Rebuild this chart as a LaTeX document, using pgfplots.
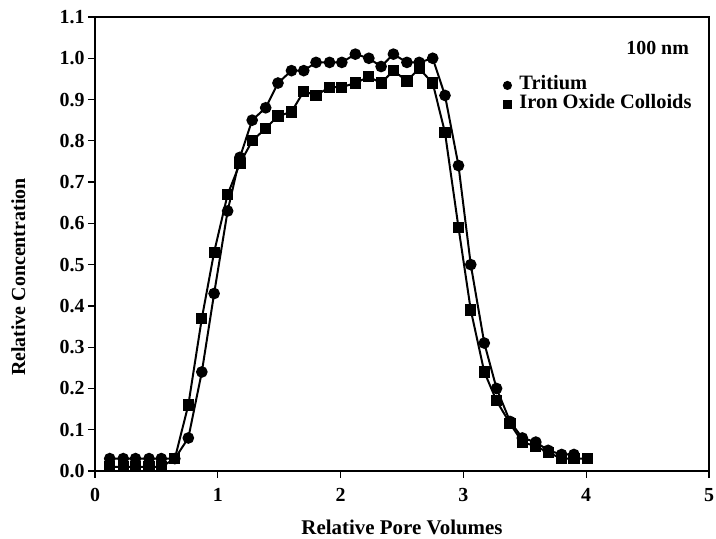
\documentclass[border=0pt]{standalone}
\usepackage{pgfplots}
\pgfplotsset{compat=1.18}
\usepackage{fontspec}
\setmainfont{Liberation Serif}

\pgfplotstableread{
x y
0.12 0.03
0.23 0.03
0.33 0.03
0.44 0.03
0.54 0.03
0.65 0.03
0.76 0.08
0.87 0.24
0.97 0.43
1.08 0.63
1.18 0.76
1.28 0.85
1.39 0.88
1.49 0.94
1.60 0.97
1.70 0.97
1.80 0.99
1.91 0.99
2.01 0.99
2.12 1.01
2.23 1.00
2.33 0.98
2.43 1.01
2.54 0.99
2.64 0.99
2.75 1.00
2.85 0.91
2.96 0.74
3.06 0.50
3.17 0.31
3.27 0.20
3.38 0.12
3.48 0.08
3.59 0.07
3.69 0.05
3.80 0.04
3.90 0.04
}\tritium

\pgfplotstableread{
x y
0.12 0.01
0.23 0.01
0.33 0.01
0.44 0.01
0.54 0.01
0.65 0.03
0.76 0.16
0.87 0.37
0.97 0.53
1.08 0.67
1.18 0.745
1.28 0.80
1.39 0.83
1.49 0.86
1.60 0.87
1.70 0.92
1.80 0.91
1.91 0.93
2.01 0.93
2.12 0.94
2.23 0.955
2.33 0.94
2.43 0.97
2.54 0.945
2.64 0.975
2.75 0.94
2.85 0.82
2.96 0.59
3.06 0.39
3.17 0.24
3.27 0.17
3.38 0.115
3.48 0.07
3.59 0.06
3.69 0.045
3.80 0.03
3.90 0.03
4.01 0.03
}\ironoxide

\begin{document}
\begin{tikzpicture}
\useasboundingbox (0,0) rectangle (716bp,539bp);
\begin{axis}[
    at={(95bp,68bp)}, anchor=south west,
    scale only axis,
    width=614bp, height=454bp,
    xmin=0, xmax=5, ymin=0, ymax=1.1,
    xtick={0,1,2,3,4,5},
    ytick={0,0.1,0.2,0.3,0.4,0.5,0.6,0.7,0.8,0.9,1.0,1.1},
    yticklabel style={/pgf/number format/.cd, fixed, fixed zerofill, precision=1},
    /pgf/number format/assume math mode=true,
    tick align=outside,
    xtick pos=left, ytick pos=left,
    major tick length=7bp,
    axis line style={line width=1.2pt},
    every tick/.style={black, line width=1.2pt},
    tick label style={font=\fontsize{20}{23}\selectfont\bfseries},
    xticklabel style={yshift=-7bp},
    xlabel={Relative Pore Volumes},
    ylabel={Relative Concentration},
    xlabel style={at={(axis description cs:0.5,-0.125)}, anchor=center,
        font=\fontsize{21}{24}\selectfont\bfseries},
    ylabel style={at={(axis description cs:-0.125,0.427)}, anchor=center,
        font=\fontsize{20}{23}\selectfont\bfseries},
    legend style={at={(axis description cs:0.66,0.875)}, anchor=north west,
        draw=none, fill=none, font=\fontsize{20.5}{23}\selectfont\bfseries,
        row sep=0bp,
        nodes={inner sep=1pt, text height=13bp, text depth=4bp}},
    legend cell align=left,
    legend image code/.code={
        \path[draw=none, fill=none] (0bp,0bp) -- (15bp,0bp);
        \draw[#1, mark size=3.5bp] plot[only marks] coordinates {(4bp,0bp)};},
]
\addplot[black, line width=2pt, mark=*, mark size=4.8bp] table {\tritium};
\addlegendentry{Tritium}
\addplot[black, line width=2pt, mark=square*, mark size=4.6bp] table {\ironoxide};
\addlegendentry{Iron Oxide Colloids}
\node[anchor=east, font=\fontsize{20}{23}\selectfont\bfseries] at (axis description cs:0.973,0.932) {100 nm};
\end{axis}
\end{tikzpicture}
\end{document}
